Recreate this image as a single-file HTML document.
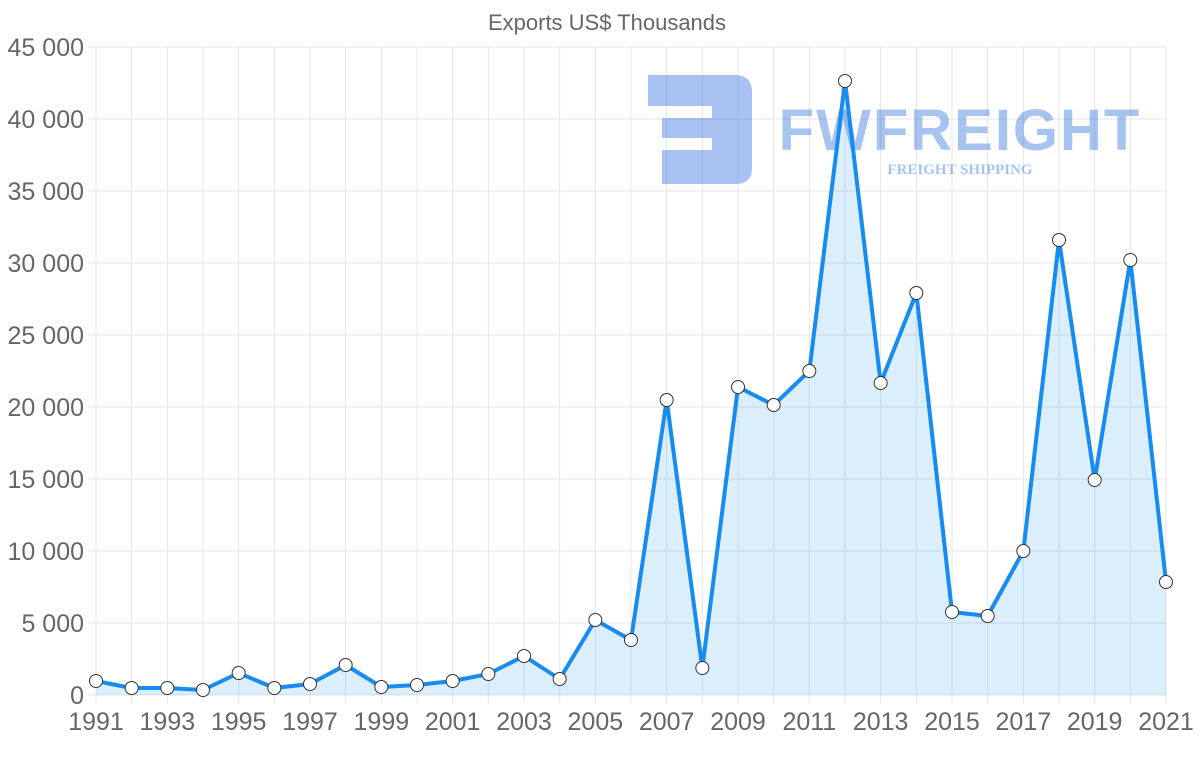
<!DOCTYPE html>
<html><head><meta charset="utf-8"><style>
body{margin:0;background:#fff;}
svg{display:block;font-family:"Liberation Sans",Arial,sans-serif;}
</style></head><body>
<svg width="1200" height="763" xmlns="http://www.w3.org/2000/svg">
<text x="607" y="30" text-anchor="middle" font-size="22" fill="#666">Exports US$ Thousands</text>
<g id="grid" stroke="#e5e5e5" stroke-width="1"></g>
<g id="ylab" font-size="25" fill="#666" text-anchor="end"></g>
<g id="xlab" font-size="25" fill="#666" text-anchor="middle"></g>
<!-- watermark -->
<g opacity="0.45">
<path d="M648 75 H735 Q752 75 752 92 V168 Q752 184 735 184 H662 V150 H712 V138 H662 V118 H712 V106 H648 Z" fill="#3d7be0"/>
<text x="960" y="150" text-anchor="middle" font-size="58" font-weight="bold" fill="#3d7be0" letter-spacing="2">FWFREIGHT</text>
<text x="960" y="174" text-anchor="middle" font-size="15" font-weight="bold" fill="#3d7be0" font-family="Liberation Serif,serif">FREIGHT SHIPPING</text>
</g>
<path id="area" fill="rgba(54,162,235,0.18)"/>
<path id="line" fill="none" stroke="#178cf0" stroke-width="4" stroke-linejoin="round"/>
<g id="pts" fill="#fff" stroke="#333" stroke-width="1"></g>
<script>
var ys=[681,688,688,690,673,688,684,665,687,685,681,674,656,679,620,640,400,668,387,405,371,81,383,293,612,616,551,240,480,260,582];
var x0=96,dx=(1166-96)/30,ns="http://www.w3.org/2000/svg";
function el(t,a,p){var e=document.createElementNS(ns,t);for(var k in a)e.setAttribute(k,a[k]);document.getElementById(p).appendChild(e);return e;}
for(var i=0;i<=30;i++){var x=x0+i*dx;el('line',{x1:x,y1:47,x2:x,y2:703},'grid');if(i%2==0){var t=el('text',{x:x,y:730},'xlab');t.textContent=1991+i;}}
for(var j=0;j<=9;j++){var y=695-j*72;el('line',{x1:88,y1:y,x2:1166,y2:y},'grid');var t=el('text',{x:84,y:y+9},'ylab');t.textContent=j==0?'0':(j*5)+' 000';}
var d='';ys.forEach(function(y,i){d+=(i?'L':'M')+(x0+i*dx)+' '+y;});
document.getElementById('line').setAttribute('d',d);
document.getElementById('area').setAttribute('d',d+'L1166 695L96 695Z');
ys.forEach(function(y,i){el('circle',{cx:x0+i*dx,cy:y,r:6.5},'pts');});
</script>
</svg>
</body></html>
